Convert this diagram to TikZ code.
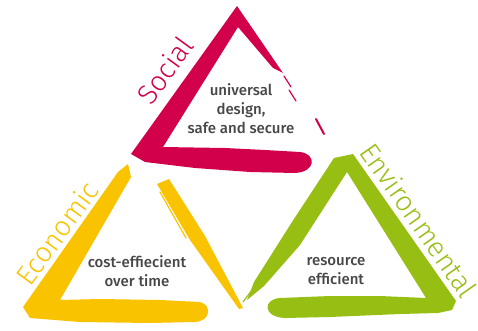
\documentclass[tikz,border=0pt]{standalone}
\usepackage{fontspec}
\setmainfont{Fira Sans}
\newfontfamily\thinfont{Fira Sans Light}
\newfontfamily\notefont{Fira Sans Medium}
\definecolor{socialred}{HTML}{D2004B}
\definecolor{econyellow}{HTML}{FAC300}
\definecolor{envgreen}{HTML}{97BE12}
\definecolor{notegray}{HTML}{474747}

\begin{document}
\begin{tikzpicture}[x=1pt, y=-1pt,
	pillar/.style={font=\thinfont\fontsize{28}{28}\selectfont, inner sep=0pt},
	note/.style={font=\notefont\fontsize{15}{19}\selectfont, text=notegray, align=center, inner sep=0pt},
	hair/.style={line width=1.2pt, line cap=round},]

\useasboundingbox (0,0) rectangle (478,331);

% Brush strokes
\fill[socialred] (237,6) -- (131,154) -- (145,162) -- (195,168) -- (250,172) -- (295,173)
	.. controls (316,172) and (317,154) .. (300,152) -- (265,150) -- (225,148) -- (163,147)
	-- (238,27) -- (273,68) -- (283,73) -- cycle;
\draw[socialred, hair] (284,76) -- (291,87);
\draw[socialred, hair] (289,90) -- (296,101);
\draw[socialred, hair, line width=2pt] (316,119) -- (324,134);

\fill[econyellow] (118,172) -- (128,164) -- (131,177) -- (60,300) -- (100,299) -- (160,300) -- (200,302)
	.. controls (212,305) and (211,321) .. (195,322) -- (150,323) -- (80,322) -- (30,318) -- (23,307) -- cycle;
\fill[econyellow] (157,184) -- (169,179) -- (205,236) -- (243,308) -- (239,309) -- (190,240) -- cycle;
\draw[econyellow, hair] (160,192) -- (186,238);

\fill[envgreen] (334,158) -- (353,154) -- (456,301) -- (452,310) -- (438,313) -- (400,314) -- (330,317) -- (285,318)
	.. controls (262,317) and (263,299) .. (280,298) -- (330,296) -- (380,296) -- (426,298)
	-- (347,172) -- (300,245) -- (264,286) -- (247,300) -- (254,282) -- (292,222) -- cycle;
\draw[envgreen, hair] (252,290) -- (243,302);

% Create the nodes
\node[pillar, text=socialred, rotate=54] (social) at (165,70) {Social};
\node[pillar, text=econyellow, rotate=54] (economic) at (57,233) {Economic};
\node[pillar, text=envgreen, rotate=-55] (environmental) at (419,220) {Environmental};

\node[note] (socialnote) at (241,109) {universal\\design,\\safe and secure};
\node[note] (economicnote) at (137,271) {cost-effiecient\\over time};
\node[note] (environmentalnote) at (336,271) {resource\\efficient};

\end{tikzpicture}
\end{document}
